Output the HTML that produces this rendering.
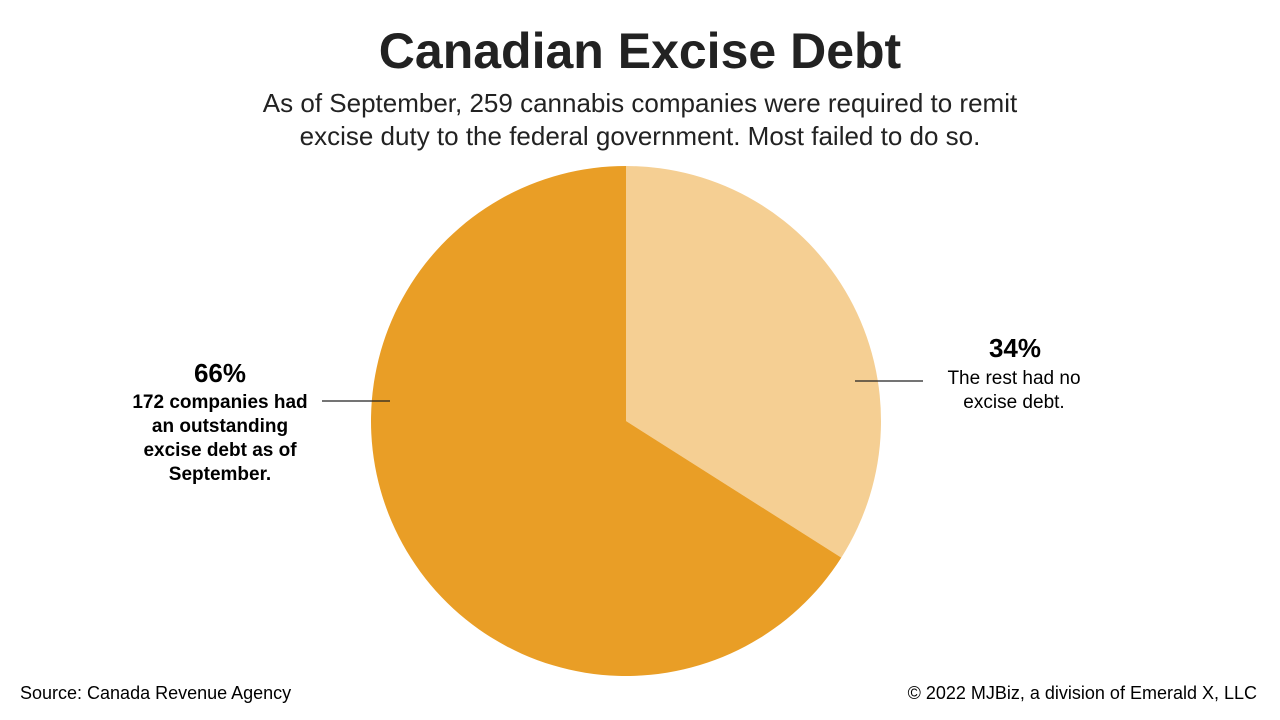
<!DOCTYPE html>
<html><head><meta charset="utf-8"><style>
body{margin:0;width:1280px;height:720px;background:#fff;overflow:hidden;font-family:"Liberation Sans",sans-serif;color:#222}
svg{position:absolute;left:0;top:0}
</style></head><body>
<svg width="1280" height="720" id="chart">
<text x="640" y="68" text-anchor="middle" font-size="50" font-weight="bold" fill="#222">Canadian Excise Debt</text>
<text x="640" y="112" text-anchor="middle" font-size="26" fill="#222">As of September, 259 cannabis companies were required to remit</text>
<text x="640" y="145" text-anchor="middle" font-size="26" fill="#222">excise duty to the federal government. Most failed to do so.</text>
<g id="slices"></g>
<line x1="855" y1="381" x2="923" y2="381" stroke="#222" stroke-width="1.2"/>
<line x1="322" y1="401" x2="390" y2="401" stroke="#222" stroke-width="1.2"/>
<g text-anchor="middle">
<text x="1015" y="357" font-size="26" font-weight="bold">34%</text>
<text x="1014" y="384" font-size="19">The rest had no</text>
<text x="1014" y="408" font-size="19">excise debt.</text>
</g>
<g text-anchor="middle" font-weight="bold">
<text x="220" y="382" font-size="26">66%</text>
<text x="220" y="408" font-size="19">172 companies had</text>
<text x="220" y="432" font-size="19">an outstanding</text>
<text x="220" y="456" font-size="19">excise debt as of</text>
<text x="220" y="480" font-size="19">September.</text>
</g>
<text x="20" y="699" font-size="18">Source: Canada Revenue Agency</text>
<text x="1257" y="699" font-size="18" text-anchor="end">© 2022 MJBiz, a division of Emerald X, LLC</text>
</svg>
<script>
const categories = ["No excise debt", "Outstanding excise debt"];
const values = [34, 66];
const colors = ["#F5CF93", "#E99E26"];
const cx = 626, cy = 421, r = 255;
const total = values.reduce((a,b)=>a+b,0);
const g = document.getElementById('slices');
let a0 = 0;
values.forEach((v,i)=>{
  const a1 = a0 + v/total*2*Math.PI;
  const x0 = cx + r*Math.sin(a0), y0 = cy - r*Math.cos(a0);
  const x1 = cx + r*Math.sin(a1), y1 = cy - r*Math.cos(a1);
  const large = (a1-a0) > Math.PI ? 1 : 0;
  const p = document.createElementNS('http://www.w3.org/2000/svg','path');
  p.setAttribute('d', `M${cx},${cy} L${x0},${y0} A${r},${r} 0 ${large} 1 ${x1},${y1} Z`);
  p.setAttribute('fill', colors[i]);
  
  
  g.appendChild(p);
  a0 = a1;
});
</script>
</body></html>
